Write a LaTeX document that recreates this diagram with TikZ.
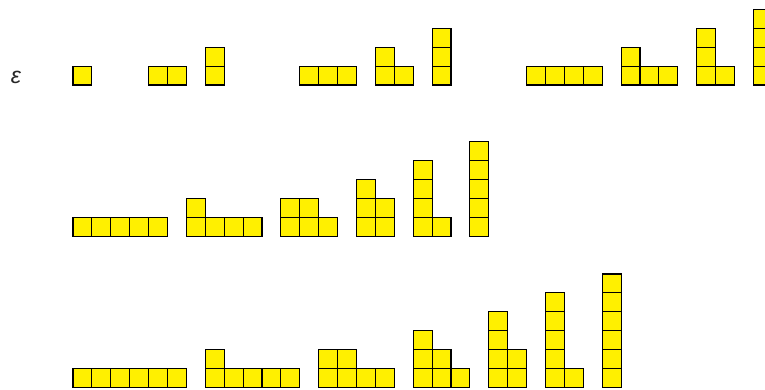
\documentclass[tikz,border=0pt]{standalone}
\usepackage{fontspec}
\newfontfamily\epsfont{Liberation Sans}
\definecolor{cellyellow}{RGB}{255,240,0}
\tikzset{
  cell/.style={draw=black, fill=cellyellow, line width=1.1pt, line join=miter},
  epslabel/.style={inner sep=0pt, text=black!85, font=\epsfont\itshape\fontsize{23}{23}\selectfont}
}
\newcommand\cellsize{18.9}
% #1 = column offset (in cells), #2 = baseline y (px), #3 = row lengths bottom to top
\newcommand\youngdiag[3]{%
  \foreach \len [count=\r from 0] in {#3} {%
    \foreach \c in {1,...,\len} {%
      \draw[cell] ({73+(#1+\c-1)*\cellsize}, {#2-(\r+1)*\cellsize}) rectangle ++(\cellsize,\cellsize);
    }%
  }%
}
\begin{document}
\begin{tikzpicture}[x=1pt,y=-1pt]
\useasboundingbox (0,0) rectangle (765,390);
\node[epslabel] (eps) at (16,77.5) {ε};
% row 1 (baseline 85)
\youngdiag{0}{85}{1}
\youngdiag{4}{85}{2}
\youngdiag{7}{85}{1,1}
\youngdiag{12}{85}{3}
\youngdiag{16}{85}{2,1}
\youngdiag{19}{85}{1,1,1}
\youngdiag{24}{85}{4}
\youngdiag{29}{85}{3,1}
\youngdiag{33}{85}{2,1,1}
\youngdiag{36}{85}{1,1,1,1}
% row 2 (baseline 236.2)
\youngdiag{0}{236.2}{5}
\youngdiag{6}{236.2}{4,1}
\youngdiag{11}{236.2}{3,2}
\youngdiag{15}{236.2}{2,2,1}
\youngdiag{18}{236.2}{2,1,1,1}
\youngdiag{21}{236.2}{1,1,1,1,1}
% row 3 (baseline 387.4)
\youngdiag{0}{387.4}{6}
\youngdiag{7}{387.4}{5,1}
\youngdiag{13}{387.4}{4,2}
\youngdiag{18}{387.4}{3,2,1}
\youngdiag{22}{387.4}{2,2,1,1}
\youngdiag{25}{387.4}{2,1,1,1,1}
\youngdiag{28}{387.4}{1,1,1,1,1,1}
\end{tikzpicture}
\end{document}
